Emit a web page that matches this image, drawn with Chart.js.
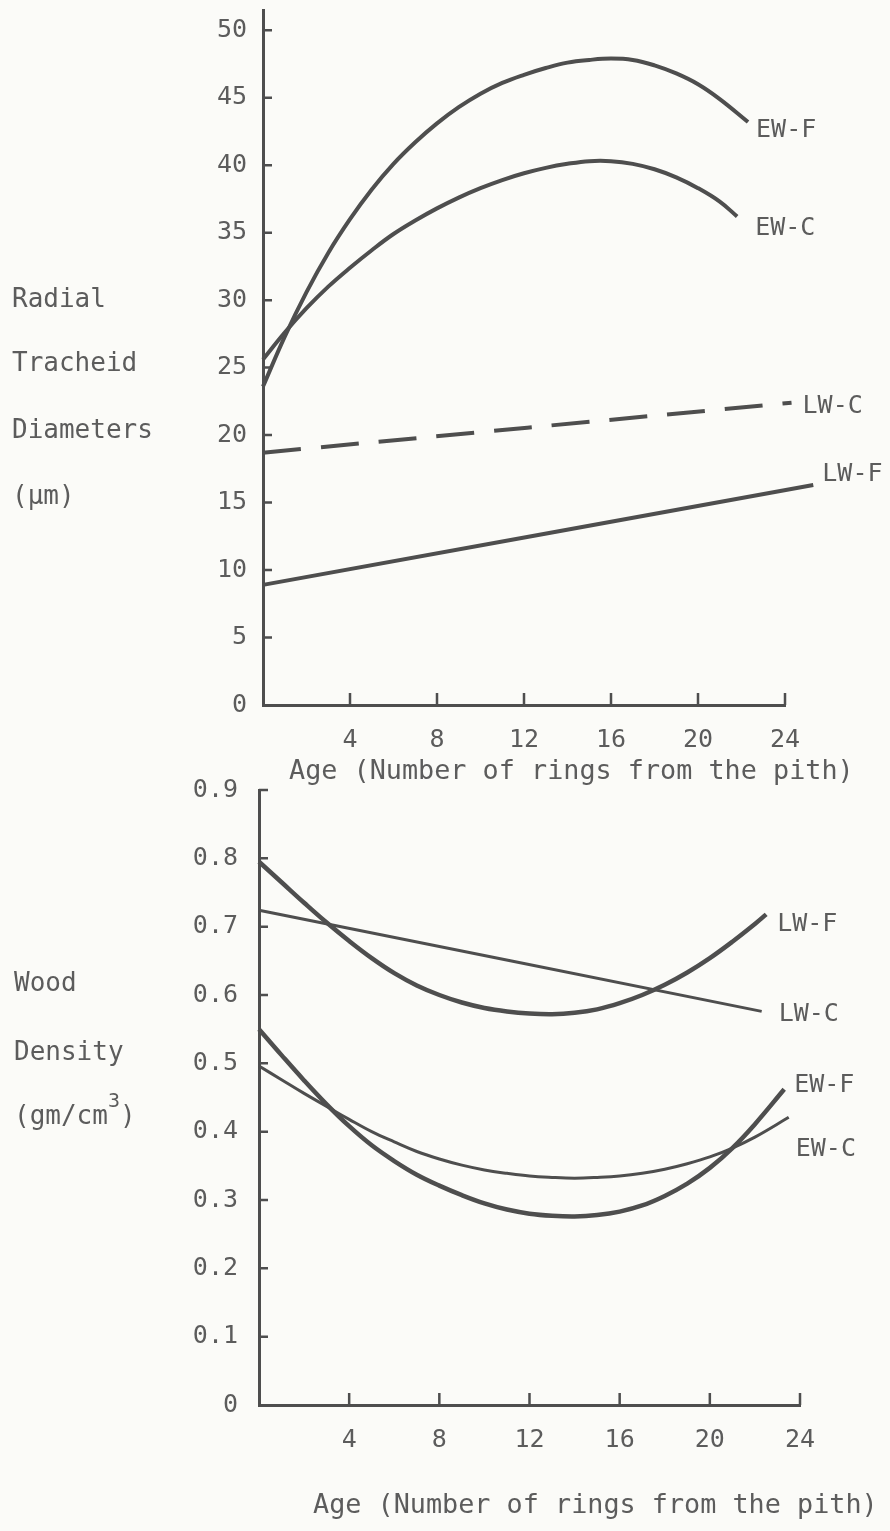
<!DOCTYPE html>
<html>
<head>
<meta charset="utf-8">
<script src="https://cdn.jsdelivr.net/npm/chart.js@4/dist/chart.umd.min.js"></script>
<style>
  html, body { margin: 0; background: #fbfbf8; }
  #wrap { position: relative; width: 890px; height: 1531px; }
  canvas { position: absolute; left: 0; }
  #diam { top: 0; }
  #dens { top: 760px; }
</style>
</head>
<body>
<div id="wrap">
  <canvas id="diam" width="890" height="800"></canvas>
  <canvas id="dens" width="890" height="771"></canvas>
</div>
<script>
// ticks
const ageTicks = [4, 8, 12, 16, 20, 24]
const diamTicks = [0, 5, 10, 15, 20, 25, 30, 35, 40, 45, 50]
const densTicks = [0, 0.1, 0.2, 0.3, 0.4, 0.5, 0.6, 0.7, 0.8, 0.9]

// radial tracheid diameters (um) by age
const ewfDiamAge = [0, 1, 2, 3, 4, 5, 6, 7, 8, 9, 10, 11, 12, 13, 14, 15, 16, 17, 18, 19, 20, 21, 22.3]
const ewfDiam = [23.6, 27.3, 30.6, 33.5, 36.0, 38.2, 40.1, 41.7, 43.1, 44.3, 45.3, 46.1, 46.7, 47.2, 47.6, 47.8, 47.9, 47.8, 47.4, 46.8, 46.0, 44.9, 43.2]
const ewcDiamAge = [0, 1, 2, 3, 4, 5, 6, 7, 8, 9, 10, 11, 12, 13, 14, 15, 16, 17, 18, 19, 20, 21, 21.8]
const ewcDiam = [25.6, 27.6, 29.4, 31.0, 32.4, 33.7, 34.9, 35.9, 36.8, 37.6, 38.3, 38.9, 39.4, 39.8, 40.1, 40.3, 40.3, 40.1, 39.7, 39.1, 38.3, 37.3, 36.2]
const lwcDiamAge = [0, 24.3]
const lwcDiam = [18.7, 22.4]
const lwfDiamAge = [0, 25.3]
const lwfDiam = [8.9, 16.3]

// wood density (gm/cm3) by age
const lwfDensAge = [0, 1, 2, 3, 4, 5, 6, 7, 8, 9, 10, 11, 12, 13, 14, 15, 16, 17, 18, 19, 20, 21, 22, 22.5]
const lwfDens = [0.795, 0.765, 0.735, 0.706, 0.679, 0.654, 0.632, 0.614, 0.600, 0.589, 0.581, 0.576, 0.573, 0.572, 0.574, 0.579, 0.588, 0.600, 0.615, 0.633, 0.654, 0.678, 0.704, 0.718]
const lwcDensAge = [0, 22.3]
const lwcDens = [0.724, 0.576]
const ewfDensAge = [0, 1, 2, 3, 4, 5, 6, 7, 8, 9, 10, 11, 12, 13, 14, 15, 16, 17, 18, 19, 20, 21, 22, 23.3]
const ewfDens = [0.550, 0.512, 0.475, 0.440, 0.408, 0.380, 0.357, 0.337, 0.321, 0.307, 0.295, 0.286, 0.280, 0.277, 0.276, 0.278, 0.283, 0.292, 0.306, 0.324, 0.347, 0.376, 0.411, 0.462]
const ewcDensAge = [0, 1, 2, 3, 4, 5, 6, 7, 8, 9, 10, 11, 12, 13, 14, 15, 16, 17, 18, 19, 20, 21, 22, 23.5]
const ewcDens = [0.496, 0.476, 0.456, 0.437, 0.418, 0.400, 0.385, 0.371, 0.360, 0.351, 0.344, 0.339, 0.335, 0.333, 0.332, 0.333, 0.335, 0.339, 0.345, 0.353, 0.363, 0.376, 0.392, 0.421]

const INK = "#4e4e4e"
const TEXT = "#5c5c5c"
const FONT = "'DejaVu Sans Mono', monospace"

Chart.defaults.font.family = FONT
Chart.defaults.color = TEXT

const pts = (ages, vals) => ages.map((x, i) => ({ x: x, y: vals[i] }))

function series(tag, ages, vals, width, dx, dy, dash) {
  return {
    label: tag,
    data: pts(ages, vals),
    borderColor: INK,
    borderWidth: width,
    borderDash: dash || [],
    borderCapStyle: "butt",
    pointRadius: 0,
    fill: false,
    clip: false,
    tension: 0.4,
    tagDx: dx,
    tagDy: dy
  }
}

// hand-drawn style axes: inward ticks, curve tags, stacked side caption, axis caption
const paperAxes = {
  id: "paperAxes",
  afterDatasetsDraw(chart, args, opts) {
    const ctx = chart.ctx
    const xs = chart.scales.x
    const ys = chart.scales.y
    const { left, bottom } = chart.chartArea
    ctx.save()
    ctx.strokeStyle = INK
    ctx.lineWidth = 2.5
    ctx.beginPath()
    xs.ticks.forEach(t => {
      const px = xs.getPixelForValue(t.value)
      ctx.moveTo(px, bottom)
      ctx.lineTo(px, bottom - opts.xTick)
    })
    ys.ticks.forEach(t => {
      if (t.value === 0) return
      const py = ys.getPixelForValue(t.value)
      ctx.moveTo(left, py)
      ctx.lineTo(left + opts.yTick, py)
    })
    ctx.stroke()

    ctx.fillStyle = TEXT
    ctx.textBaseline = "middle"
    ctx.textAlign = "left"
    ctx.font = "25px " + FONT
    chart.data.datasets.forEach((ds, i) => {
      const last = chart.getDatasetMeta(i).data.at(-1)
      ctx.fillText(ds.label, last.x + ds.tagDx, last.y + ds.tagDy)
    })

    ctx.font = "26px " + FONT
    opts.side.forEach((s, i) => {
      const parts = s.split(/\^(\d)/)
      let x = opts.sideX
      const y = opts.sideY[i]
      parts.forEach((p, k) => {
        if (k % 2 === 1) {
          ctx.font = "20px " + FONT
          ctx.fillText(p, x, y - 15)
          x += ctx.measureText(p).width
          ctx.font = "26px " + FONT
        } else {
          ctx.fillText(p, x, y)
          x += ctx.measureText(p).width
        }
      })
    })

    ctx.font = "26.8px " + FONT
    ctx.fillText(opts.title, opts.titleX, opts.titleY)
    ctx.restore()
  }
}

function axes(yMax, yTicks, yWidth, xHeight, yPad, xPad) {
  return {
    x: {
      type: "linear",
      min: 0,
      max: 24,
      afterBuildTicks: s => { s.ticks = ageTicks.map(v => ({ value: v })) },
      afterFit: s => { s.height = xHeight; s.paddingLeft = 0; s.paddingRight = 0 },
      grid: { display: false },
      border: { display: true, color: INK, width: 3 },
      ticks: { padding: xPad, maxRotation: 0, autoSkip: false, font: { size: 25 }, color: TEXT }
    },
    y: {
      type: "linear",
      min: 0,
      max: yMax,
      afterBuildTicks: s => { s.ticks = yTicks.map(v => ({ value: v })) },
      afterFit: s => { s.width = yWidth; s.paddingTop = 0; s.paddingBottom = 0 },
      grid: { display: false },
      border: { display: true, color: INK, width: 3 },
      ticks: { padding: yPad, autoSkip: false, font: { size: 25 }, color: TEXT }
    }
  }
}

const diamChart = new Chart(document.getElementById("diam"), {
  type: "line",
  data: {
    datasets: [
      series("EW-F", ewfDiamAge, ewfDiam, 4, 8, 8),
      series("EW-C", ewcDiamAge, ewcDiam, 4, 18, 12),
      series("LW-C", lwcDiamAge, lwcDiam, 4, 11, 4, [38, 20]),
      series("LW-F", lwfDiamAge, lwfDiam, 4, 9, -11)
    ]
  },
  options: {
    responsive: false,
    animation: false,
    layout: { padding: { left: 0, right: 105, top: 10, bottom: 0 } },
    scales: axes(51.5, diamTicks, 263, 95, 8, 12),
    plugins: {
      legend: { display: false },
      tooltip: { enabled: false },
      paperAxes: {
        xTick: 12, yTick: 9,
        side: ["Radial", "Tracheid", "Diameters", "(\u03bcm)"],
        sideX: 12, sideY: [300, 364, 431, 497],
        title: "Age (Number of rings from the pith)", titleX: 289, titleY: 772
      }
    }
  },
  plugins: [paperAxes]
})

const densChart = new Chart(document.getElementById("dens"), {
  type: "line",
  data: {
    datasets: [
      series("LW-F", lwfDensAge, lwfDens, 4.5, 11, 10),
      series("LW-C", lwcDensAge, lwcDens, 3, 17, 3),
      series("EW-F", ewfDensAge, ewfDens, 4.5, 10, -4),
      series("EW-C", ewcDensAge, ewcDens, 3, 7, 32)
    ]
  },
  options: {
    responsive: false,
    animation: false,
    layout: { padding: { left: 0, right: 90, top: 30, bottom: 0 } },
    scales: axes(0.9, densTicks, 259, 126, 13, 12),
    plugins: {
      legend: { display: false },
      tooltip: { enabled: false },
      paperAxes: {
        xTick: 12, yTick: 9,
        side: ["Wood", "Density", "(gm/cm^3)"],
        sideX: 14, sideY: [224, 293, 357],
        title: "Age (Number of rings from the pith)", titleX: 313, titleY: 746
      }
    }
  },
  plugins: [paperAxes]
})
</script>
</body>
</html>
